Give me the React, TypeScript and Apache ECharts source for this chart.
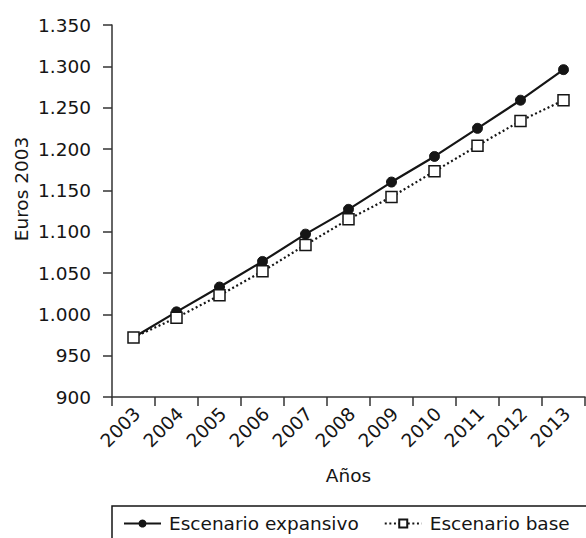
import React, { useEffect, useRef } from "react";
import * as echarts from "echarts";

const years = ["2003", "2004", "2005", "2006", "2007", "2008", "2009", "2010", "2011", "2012", "2013"];
const expansivo = [972, 1003, 1033, 1064, 1097, 1127, 1160, 1191, 1225, 1259, 1296];
const base = [972, 996, 1023, 1052, 1084, 1115, 1142, 1173, 1204, 1234, 1259];
const seriesNames = ["Escenario expansivo", "Escenario base"];
const yMin = 900;
const yMax = 1350;
const yStep = 50;

const FONT = "DejaVu Sans";
const FS = 18.5;
const INK = "#151515";
const AXIS = "#333333";

function fmt(v: number): string {
  if (v >= 1000) {
    const th = Math.floor(v / 1000);
    const rest = String(v % 1000).padStart(3, "0");
    return th + "." + rest;
  }
  return String(v);
}

export default function App() {
  const ref = useRef<HTMLDivElement>(null);
  useEffect(() => {
    document.body.style.margin = "0";
    document.body.style.overflow = "hidden";
    const chart = echarts.init(ref.current!, null, { renderer: "svg" });
    chart.setOption({
      animation: false,
      grid: { left: 112, top: 25, right: 1, bottom: 141, containLabel: false },
      xAxis: {
        type: "category",
        data: years,
        boundaryGap: true,
        axisLine: { show: true, lineStyle: { color: AXIS, width: 1.5 } },
        axisTick: { show: true, length: 9, lineStyle: { color: AXIS, width: 1.5 } },
        axisLabel: {
          interval: 0,
          rotate: 45,
          margin: 10,
          verticalAlign: "top",
          lineHeight: 10,
          fontSize: FS,
          fontFamily: FONT,
          color: INK,
        },
        name: "Años",
        nameLocation: "middle",
        nameGap: 69,
        nameTextStyle: { fontSize: FS, fontFamily: FONT, color: INK },
        splitLine: { show: false },
      },
      yAxis: {
        type: "value",
        min: yMin,
        max: yMax,
        interval: yStep,
        axisLine: { show: true, lineStyle: { color: AXIS, width: 1.5 } },
        axisTick: { show: true, length: 9, lineStyle: { color: AXIS, width: 1.5 } },
        axisLabel: {
          margin: 21,
          fontSize: FS,
          fontFamily: FONT,
          color: INK,
          formatter: (v: number) => fmt(v),
        },
        splitLine: { show: false },
      },
      legend: {
        data: seriesNames,
        left: 123,
        top: 514,
        width: 470,
        orient: "horizontal",
        padding: 0,
        itemWidth: 37,
        itemHeight: 10,
        itemGap: 25,
        textStyle: { fontSize: FS, fontFamily: FONT, color: INK, padding: [0, 0, 0, 3] },
      },
      graphic: [
        {
          type: "rect",
          shape: { x: 112, y: 506, width: 520, height: 80 },
          style: { fill: "none", stroke: INK, lineWidth: 1.5 },
          silent: true,
        },
        {
          type: "text",
          x: 21,
          y: 189,
          rotation: Math.PI / 2,
          style: {
            text: "Euros 2003",
            fontSize: FS,
            fontFamily: FONT,
            fill: INK,
            textAlign: "center",
            textVerticalAlign: "middle",
          },
        },
      ],
      series: [
        {
          name: seriesNames[0],
          type: "line",
          data: expansivo,
          symbol: "circle",
          symbolSize: 10,
          itemStyle: { color: INK, borderColor: INK },
          lineStyle: { color: INK, width: 2.2, type: "solid" },
          silent: true,
          z: 2,
        },
        {
          name: seriesNames[1],
          type: "line",
          data: base,
          symbol: "rect",
          symbolSize: 11,
          itemStyle: { color: "#ffffff", borderColor: INK, borderWidth: 1.5 },
          lineStyle: { color: INK, width: 2.2, type: [2, 2.6] },
          silent: true,
          z: 3,
        },
      ],
    });
    return () => chart.dispose();
  }, []);
  return <div ref={ref} style={{ width: 586, height: 538 }} />;
}
